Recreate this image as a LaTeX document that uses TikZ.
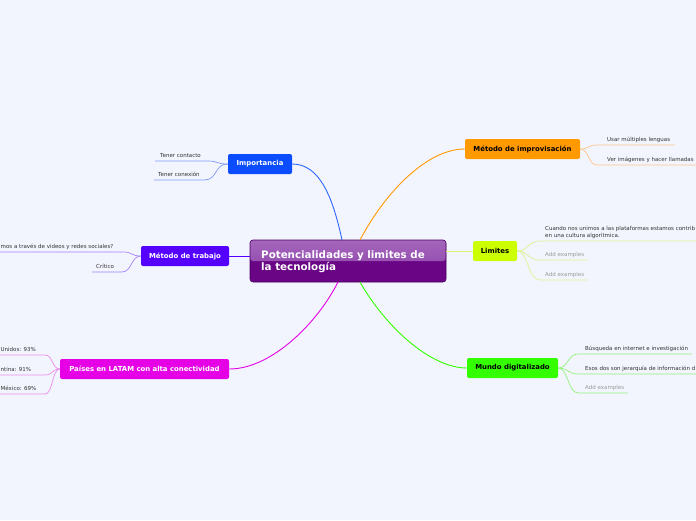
\documentclass[tikz,border=0pt]{standalone}
\usepackage{fontspec}
\setmainfont{DejaVu Sans}
\definecolor{bg}{HTML}{F2F5FE}
\definecolor{cdark}{HTML}{6A0585}
\definecolor{ctop}{HTML}{A466BC}
\definecolor{cmid}{HTML}{8A3DA6}
\definecolor{cborder}{HTML}{4A0060}
\definecolor{cblue}{HTML}{0B4DFC}
\definecolor{lblue}{HTML}{7E9BF8}
\definecolor{cviolet}{HTML}{5500FF}
\definecolor{lviolet}{HTML}{A583F8}
\definecolor{cmag}{HTML}{E600E6}
\definecolor{lmag}{HTML}{EC8DEC}
\definecolor{corange}{HTML}{FF9900}
\definecolor{lorange}{HTML}{FCC68A}
\definecolor{clime}{HTML}{CCFF00}
\definecolor{llime}{HTML}{DDF38F}
\definecolor{cgreen}{HTML}{33FF00}
\definecolor{lgreen}{HTML}{94F27A}
\definecolor{ctext}{HTML}{333333}
\definecolor{cgray}{HTML}{9A9A9A}
\begin{document}
\begin{tikzpicture}[x=1pt,y=-1pt,
  branch/.style={rounded corners=2pt, minimum height=20pt, inner sep=0pt,
    font=\fontsize{6.9}{7}\selectfont\bfseries},
  leaf/.style={anchor=base west, inner sep=0pt, text=ctext, font=\fontsize{5.5}{6}\selectfont},
  leafr/.style={anchor=base east, inner sep=0pt, text=ctext, font=\fontsize{5.5}{6}\selectfont},
  addex/.style={leaf, text=cgray},
  main/.style={line width=0.9pt},
  sub/.style={line width=0.7pt}]
\useasboundingbox (0,0) rectangle (696,520);
\fill[bg] (0,0) rectangle (696,520);

% central node
\node[draw=cborder, line width=0.6pt, fill=cdark, rounded corners=3pt,
  minimum width=196pt, minimum height=42pt, inner sep=0pt,
  path picture={\shade[top color=ctop, bottom color=cmid]
     (path picture bounding box.north west) rectangle (path picture bounding box.east);}]
  (c) at (348,261) {};
\node[anchor=west, align=left, text=white, inner sep=0pt,
  font=\fontsize{10.3}{12}\selectfont\bfseries] (ct) at (261,261.5)
  {Potencialidades y limites de\\la tecnología};

% branch nodes
\node[branch, fill=cblue, text=white, minimum width=64pt] (imp) at (260,164) {Importancia};
\node[branch, fill=cviolet, text=white, minimum width=88pt] (trab) at (185,256) {Método de trabajo};
\node[branch, fill=cmag, text=white, minimum width=169pt] (lat) at (144.5,369) {Países en LATAM con alta conectividad};
\node[branch, fill=corange, text=black, minimum width=115pt] (impro) at (522.5,149) {Método de improvisación};
\node[branch, fill=clime, text=black, minimum width=44pt] (lim) at (495,251) {Limites};
\node[branch, fill=cgreen, text=black, minimum width=91pt] (mundo) at (512.5,368) {Mundo digitalizado};

% anchor points on central node
\coordinate (cImp) at (342,240);
\coordinate (cImpro) at (360,240);
\coordinate (cLat) at (338,282);
\coordinate (cMundo) at (360,282);

% central connectors
\draw[main, cblue!85] (cImp) .. controls (333,198) and (320,164) .. (imp.east);
\draw[main, corange] (cImpro) .. controls (383,196) and (425,149) .. (impro.west);
\draw[main, cviolet] (c.west |- trab.east) -- (trab.east);
\draw[main, llime!80!clime] (c.east |- lim.west) -- (lim.west);
\draw[main, cmag] (cLat) .. controls (318,322) and (272,369) .. (lat.east);
\draw[main, cgreen] (cMundo) .. controls (385,326) and (430,368) .. (mundo.west);

% ---- Importancia leaves
\node[leaf] (i1) at (160,157) {Tener contacto};
\node[leaf] (i2) at (158,176) {Tener conexión};
\coordinate (i1a) at (208,161); \coordinate (i1b) at (155,161);
\coordinate (i2a) at (204,180); \coordinate (i2b) at (154,180);
\draw[sub, lblue] (imp.west) .. controls (216,164) and (218,161) .. (i1a) -- (i1b);
\draw[sub, lblue] (imp.west) .. controls (214,164) and (218,180) .. (i2a) -- (i2b);

% ---- Método de trabajo leaves
\node[leaf] (t1) at (0.5,248) {mos a través de videos y redes sociales?};
\node[leaf] (t2) at (96,268) {Crítico};
\coordinate (t1a) at (124,252); \coordinate (t1b) at (0,252);
\coordinate (t2a) at (122,272); \coordinate (t2b) at (92,272);
\draw[sub, lviolet] (trab.west) .. controls (131,256) and (132,252) .. (t1a) -- (t1b);
\draw[sub, lviolet] (trab.west) .. controls (131,256) and (132,272) .. (t2a) -- (t2b);

% ---- Países leaves
\node[leaf] (l1) at (0.5,351) {Unidos: 93\%};
\node[leaf] (l2) at (0.5,371) {ntina: 91\%};
\node[leaf] (l3) at (0.5,390) {México: 69\%};
\coordinate (l1a) at (45,355); \coordinate (l1b) at (0,355);
\coordinate (l2a) at (45,375); \coordinate (l2b) at (0,375);
\coordinate (l3a) at (45,394); \coordinate (l3b) at (0,394);
\draw[sub, lmag] (lat.west) .. controls (52,369) and (53,355) .. (l1a) -- (l1b);
\draw[sub, lmag] (lat.west) .. controls (52,369) and (53,375) .. (l2a) -- (l2b);
\draw[sub, lmag] (lat.west) .. controls (52,369) and (53,394) .. (l3a) -- (l3b);

% ---- Método de improvisación leaves
\node[leaf] (m1) at (607,141) {Usar múltiples lenguas};
\node[leaf] (m2) at (607,161) {Ver imágenes y hacer llamadas};
\coordinate (m1a) at (597,145); \coordinate (m1b) at (675,145);
\coordinate (m2a) at (597,165); \coordinate (m2b) at (696,165);
\draw[sub, lorange] (impro.east) .. controls (589,149) and (588,145) .. (m1a) -- (m1b);
\draw[sub, lorange] (impro.east) .. controls (589,149) and (588,165) .. (m2a) -- (m2b);

% ---- Limites leaves
\node[leaf] (s1) at (545,230) {Cuando nos unimos a las plataformas estamos contrib};
\node[leaf] (s1b) at (545,237) {en una cultura algorítmica.};
\node[addex] (s2) at (545,256) {Add examples};
\node[addex] (s3) at (545,276) {Add examples};
\coordinate (s1a) at (540,241); \coordinate (s1e) at (696,241);
\coordinate (s2a) at (540,260); \coordinate (s2e) at (588,260);
\coordinate (s3a) at (540,280); \coordinate (s3e) at (588,280);
\draw[sub, llime] (lim.east) .. controls (528,251) and (528,241) .. (s1a) -- (s1e);
\draw[sub, llime] (lim.east) .. controls (528,251) and (528,260) .. (s2a) -- (s2e);
\draw[sub, llime] (lim.east) .. controls (528,251) and (528,280) .. (s3a) -- (s3e);

% ---- Mundo leaves
\node[leaf] (w1) at (585,350) {Búsqueda en internet e investigación};
\node[leaf] (w2) at (585,370) {Esos dos son jerarquía de información d};
\node[addex] (w3) at (585,389) {Add examples};
\coordinate (w1a) at (578,354); \coordinate (w1e) at (692,354);
\coordinate (w2a) at (578,374); \coordinate (w2e) at (696,374);
\coordinate (w3a) at (578,393); \coordinate (w3e) at (628,393);
\draw[sub, lgreen] (mundo.east) .. controls (568,368) and (568,354) .. (w1a) -- (w1e);
\draw[sub, lgreen] (mundo.east) .. controls (568,368) and (568,374) .. (w2a) -- (w2e);
\draw[sub, lgreen] (mundo.east) .. controls (568,368) and (568,393) .. (w3a) -- (w3e);
\end{tikzpicture}
\end{document}
